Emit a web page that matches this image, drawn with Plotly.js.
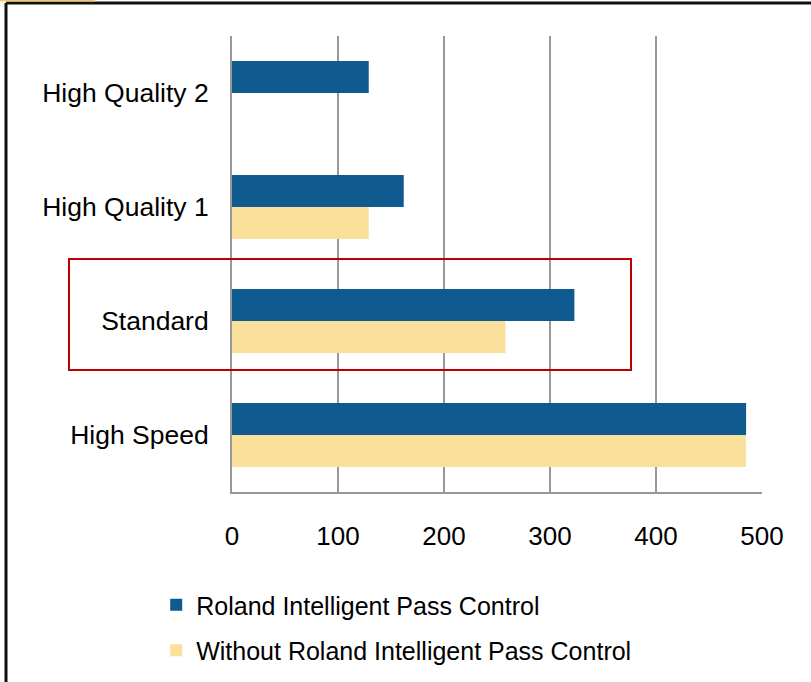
<!DOCTYPE html>
<html>
<head>
<meta charset="utf-8">
<script src="https://cdn.plot.ly/plotly-3.0.1.min.js"></script>
<style>
html,body{margin:0;padding:0;background:#fff;}
#chart{width:811px;height:682px;}
</style>
</head>
<body>
<div id="chart"></div>
<script>
var categories = ["High Speed", "Standard", "High Quality 1", "High Quality 2"];
var rolandValues = [485, 323, 162, 129];
var withoutValues = [485, 258, 129, null];
var seriesNames = ["Roland Intelligent Pass Control", "Without Roland Intelligent Pass Control"];
var xTickValues = [0, 100, 200, 300, 400, 500];

var FONT = "Liberation Sans, Arial, sans-serif";

var traces = [
  {
    type: "bar", orientation: "h",
    name: seriesNames[1], legendgroup: "b", legendrank: 2,
    x: withoutValues, y: categories,
    marker: {color: "#f9e09b"}
  },
  {
    type: "bar", orientation: "h",
    name: seriesNames[0], legendgroup: "a", legendrank: 1,
    x: rolandValues, y: categories,
    marker: {color: "#0f5a8e"}
  }
];

var layout = {
  width: 811, height: 682,
  margin: {l: 232, r: 49, t: 36, b: 190},
  paper_bgcolor: "#ffffff",
  plot_bgcolor: "#ffffff",
  barmode: "group",
  bargap: 0.44,
  bargroupgap: 0,
  font: {family: FONT, color: "#000", size: 25},
  xaxis: {
    range: [0, 500],
    tickvals: xTickValues,
    ticktext: xTickValues.map(String),
    showgrid: true, gridcolor: "#999999", gridwidth: 2,
    zeroline: false,
    showline: true, linecolor: "#999999", linewidth: 2,
    ticks: "", ticklen: 0,
    ticklabelstandoff: 20,
    tickfont: {family: FONT, size: 26, color: "#000"},
    fixedrange: true
  },
  yaxis: {
    type: "category",
    categoryorder: "array",
    categoryarray: categories,
    showgrid: false, zeroline: false,
    showline: true, linecolor: "#999999", linewidth: 2,
    ticks: "", ticklabelstandoff: 16,
    tickfont: {family: FONT, size: 26.5, color: "#000"},
    fixedrange: true
  },
  showlegend: true,
  legend: {
    traceorder: "grouped",
    tracegroupgap: 10,
    xref: "paper", yref: "container",
    x: -0.143, xanchor: "left",
    y: (682 - 582) / 682, yanchor: "top",
    font: {family: FONT, size: 25, color: "#000"},
    bgcolor: "rgba(0,0,0,0)",
    itemclick: false, itemdoubleclick: false
  },
  shapes: [
    {type: "rect", xref: "paper", yref: "paper",
     x0: (69 - 232) / 530, x1: (631 - 232) / 530,
     y0: (492 - 370) / 456, y1: (492 - 259) / 456,
     line: {color: "#c00000", width: 2}, fillcolor: "rgba(0,0,0,0)"},
    {type: "line", xref: "paper", yref: "paper",
     x0: (6 - 232) / 530, x1: (811 - 232) / 530,
     y0: (492 - 3) / 456, y1: (492 - 3) / 456,
     line: {color: "#111111", width: 3}},
    {type: "line", xref: "paper", yref: "paper",
     x0: (6 - 232) / 530, x1: (6 - 232) / 530,
     y0: (492 - 3) / 456, y1: (492 - 682) / 456,
     line: {color: "#111111", width: 3}},
    {type: "line", xref: "paper", yref: "paper",
     x0: (0 - 232) / 530, x1: (95 - 232) / 530,
     y0: (492 - 0.5) / 456, y1: (492 - 0.5) / 456,
     line: {color: "#f2c96a", width: 2}}
  ]
};

Plotly.newPlot("chart", traces, layout, {displayModeBar: false, staticPlot: true});
</script>
</body>
</html>
